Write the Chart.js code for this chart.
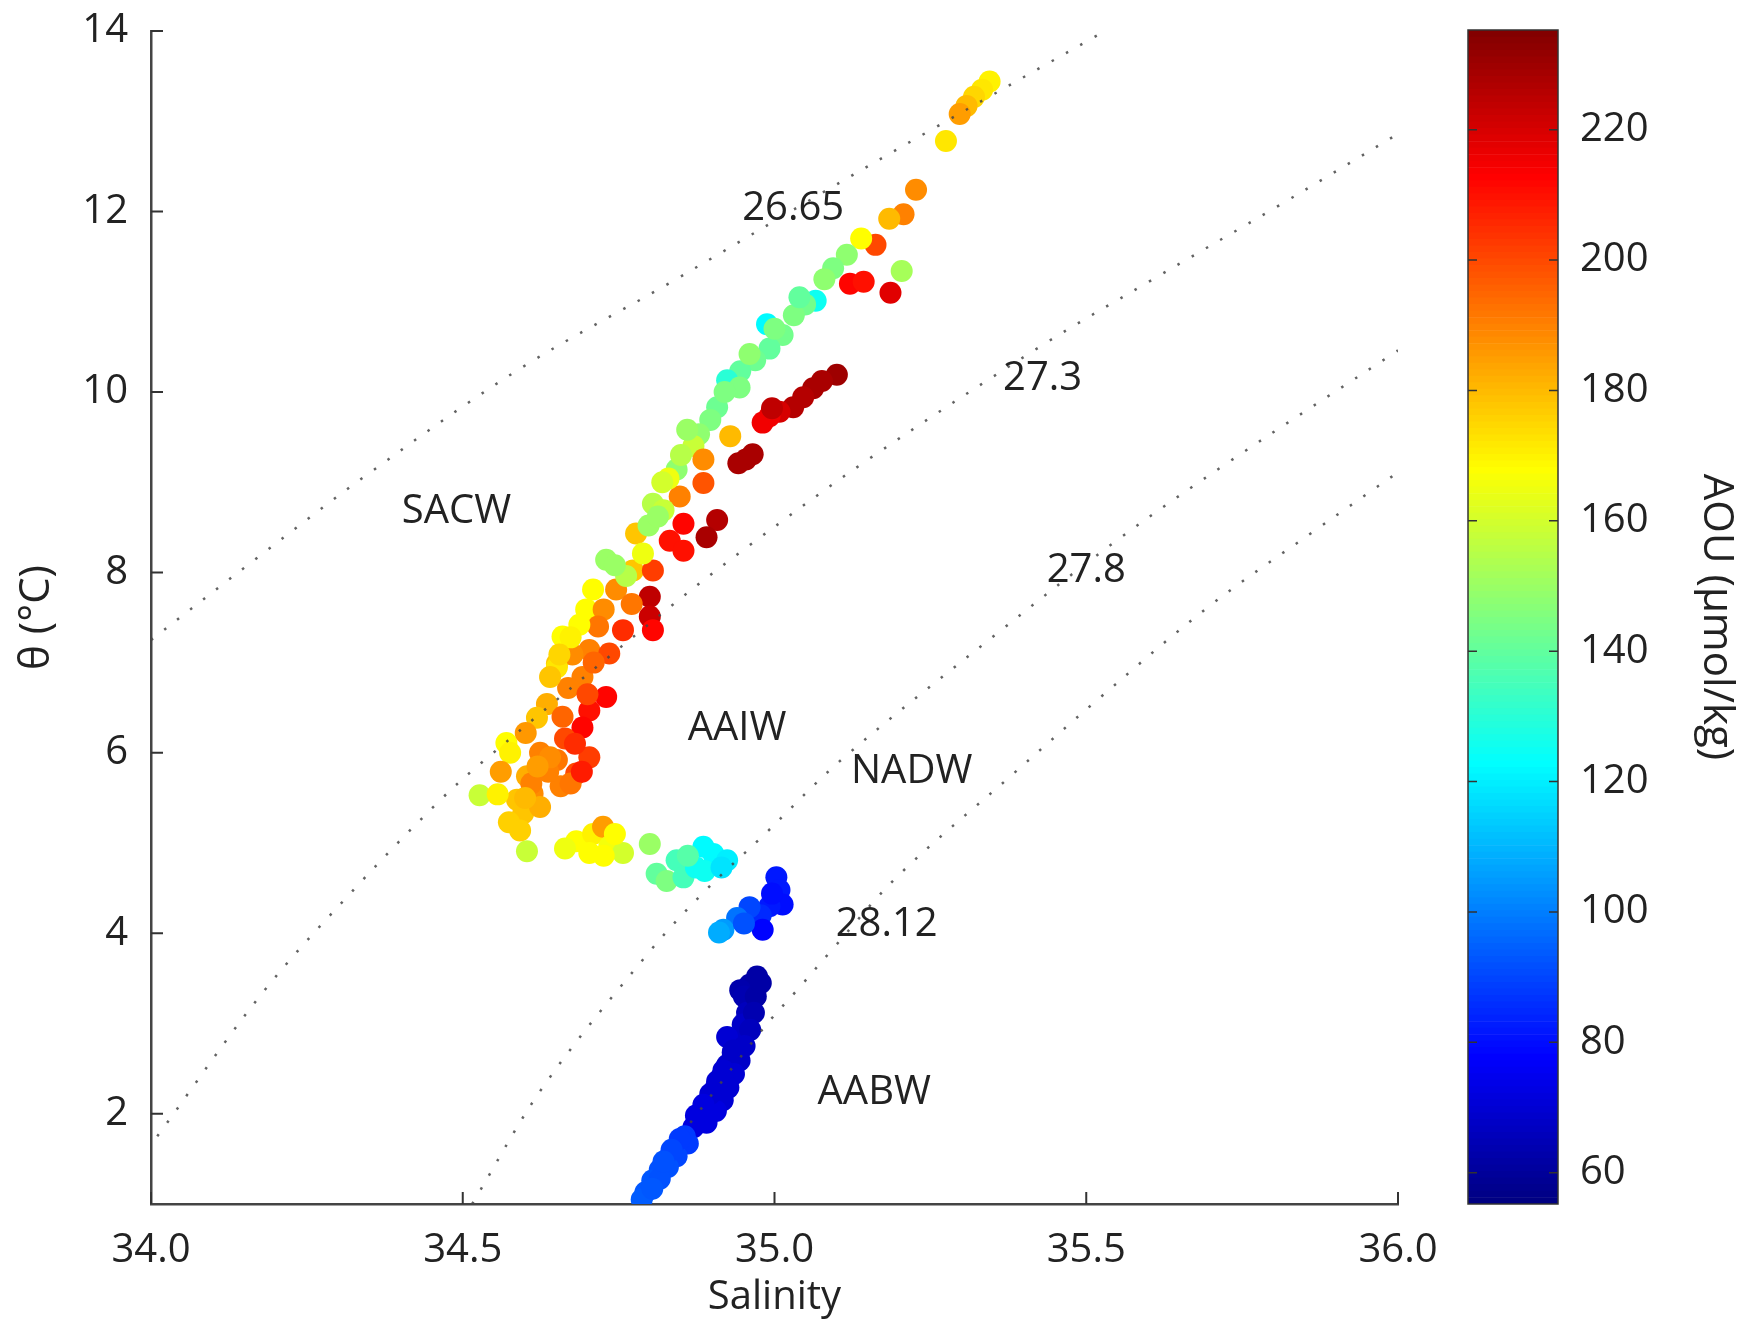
<!DOCTYPE html>
<html>
<head>
<meta charset="utf-8">
<script src="https://cdn.jsdelivr.net/npm/chart.js@4.4.1/dist/chart.umd.min.js"></script>
<style>
  html, body { margin: 0; padding: 0; background: #fff; }
  #wrap { position: relative; width: 1754px; height: 1325px; overflow: hidden; }
  #ts { position: absolute; left: 0; top: 0; }
  #cbar { position: absolute; left: 1440px; top: 0; }
</style>
</head>
<body>
<div id="wrap">
  <canvas id="ts" width="1453" height="1325"></canvas>
  <canvas id="cbar" width="314" height="1325"></canvas>
</div>
<script>
// ticks
const xTicks = [34.0, 34.5, 35.0, 35.5, 36.0];
const yTicks = [2, 4, 6, 8, 10, 12, 14];
const cbTicks = [60, 80, 100, 120, 140, 160, 180, 200, 220];
const aouMin = 55.2, aouMax = 235.3;

// bottle data: salinity, potential temperature, AOU
const salinity = [
  35.345, 35.333, 35.320, 35.308, 35.297, 35.275, 35.227, 35.207, 35.184, 35.162,
  35.139, 35.204, 35.121, 35.143, 35.186, 35.116, 35.094, 35.066, 35.049, 35.031,
  34.988, 35.013, 34.992, 34.969, 34.945, 34.924, 34.944, 34.908, 34.897, 34.879,
  34.929, 34.870, 34.886, 34.843, 34.848, 34.886, 34.805, 34.822, 34.830,
  34.860, 34.920, 34.960, 35.000, 35.040, 35.080, 34.850, 34.820,
  35.100, 35.076, 35.062, 35.046, 35.030, 35.008, 34.992, 34.981, 34.996, 34.954,
  34.942, 34.965,
  34.854, 34.908, 34.891, 34.832, 34.854, 34.778, 34.730, 34.773, 34.805, 34.800,
  34.709, 34.746, 34.800, 34.805, 34.698, 34.757, 34.660, 34.703, 34.735, 34.651,
  34.726, 34.771, 34.717, 34.676, 34.651, 34.692, 34.635, 34.619, 34.730, 34.703,
  34.692, 34.669, 34.570, 34.576, 34.624, 34.651, 34.703, 34.682, 34.603, 34.527,
  34.587, 34.612, 34.657, 34.597, 34.624, 34.574, 34.592, 34.637, 34.673, 34.691,
  34.664, 34.601, 34.561, 34.556, 34.610, 34.603, 34.687, 34.673, 34.640, 34.655,
  34.762, 34.744, 34.789, 34.798, 34.813,
  34.660, 34.680, 34.640, 34.620, 34.700, 34.710, 34.600,
  34.682, 34.709, 34.725, 34.703, 34.735, 34.757, 34.726, 34.664, 34.744, 34.800,
  34.811, 34.827, 34.843, 34.854, 34.874, 34.886, 34.902, 34.924, 34.861, 34.888,
  34.915,
  35.003, 35.008, 35.013, 34.992, 34.978, 34.960, 34.940, 34.918, 34.911, 34.981,
  34.951, 34.996,
  34.972, 34.960, 34.945, 34.951, 34.956, 34.949, 34.942, 34.924, 34.933, 34.924,
  34.915, 34.906, 34.897, 34.888, 34.879, 34.870, 34.856, 34.843, 34.830, 34.816,
  34.804, 34.793, 34.787,
  34.970, 34.967, 34.961, 34.952, 34.944, 34.935, 34.926, 34.917, 34.906, 34.891,
  34.861, 34.843, 34.829, 34.816, 34.804,
  34.978, 34.934, 34.918, 34.908, 34.897, 34.886, 34.874, 34.848, 34.835, 34.822
];
const theta = [
  13.44, 13.35, 13.27, 13.17, 13.08, 12.78, 12.24, 11.97, 11.92, 11.63,
  11.70, 11.34, 11.20, 11.22, 11.10, 11.52, 11.37, 11.01, 10.97, 10.85,
  10.75, 10.63, 10.48, 10.35, 10.23, 10.13, 10.05, 9.83, 9.69, 9.53,
  9.51, 9.40, 9.25, 9.14, 8.84, 8.99, 8.76, 8.69, 9.04,
  9.58, 10.00, 10.42, 10.70, 11.05, 11.25, 9.30, 9.00,
  10.19, 10.12, 10.04, 9.94, 9.83, 9.78, 9.73, 9.66, 9.82, 9.25,
  9.21, 9.31,
  8.54, 8.58, 8.39, 8.35, 8.24, 8.43, 8.14, 8.02, 8.02, 7.73,
  7.81, 7.81, 7.51, 7.36, 7.59, 7.36, 7.29, 7.14, 7.10, 6.99,
  7.59, 7.65, 7.40, 7.09, 6.95, 6.84, 6.54, 6.39, 6.62, 6.47,
  6.28, 6.72, 6.11, 6.00, 6.00, 5.92, 5.95, 5.77, 5.74, 5.53,
  5.48, 5.55, 5.63, 5.33, 5.40, 5.23, 5.14, 5.79, 5.66, 5.79,
  6.16, 6.22, 5.79, 5.54, 5.66, 4.91, 7.42, 7.28, 6.84, 7.09,
  7.96, 8.08, 8.21, 8.52, 8.62,
  6.40, 6.10, 5.95, 5.85, 6.65, 7.00, 5.50,
  5.02, 5.10, 5.18, 4.89, 4.96, 4.89, 4.86, 4.94, 5.10, 4.99,
  4.66, 4.58, 4.81, 4.62, 4.73, 4.96, 4.88, 4.81, 4.86, 4.69,
  4.73,
  4.62, 4.48, 4.32, 4.30, 4.20, 4.29, 4.17, 4.04, 4.01, 4.04,
  4.11, 4.44,
  3.52, 3.43, 3.37, 3.30, 3.12, 2.99, 2.83, 2.85, 2.68, 2.54,
  2.41, 2.29, 2.16, 2.04, 1.94, 1.85, 1.75, 1.63, 1.51, 1.38,
  1.26, 1.13, 1.05,
  3.30, 3.12, 2.93, 2.75, 2.59, 2.44, 2.29, 2.15, 2.03, 1.90,
  1.67, 1.53, 1.41, 1.28, 1.17,
  3.45, 2.70, 2.48, 2.36, 2.22, 2.10, 1.98, 1.72, 1.60, 1.47
];
const aou = [
  170, 172, 175, 180, 185, 172, 188, 190, 180, 200,
  168, 152, 212, 210, 218, 148, 145, 125, 143, 145,
  122, 143, 140, 142, 140, 130, 145, 142, 145, 148,
  180, 158, 188, 148, 190, 198, 155, 158, 165,
  150, 145, 148, 145, 140, 148, 155, 160,
  230, 228, 228, 226, 226, 220, 215, 215, 224, 228,
  228, 228,
  212, 226, 228, 210, 210, 178, 150, 178, 202, 224,
  168, 188, 222, 212, 168, 205, 168, 190, 200, 178,
  188, 192, 192, 188, 172, 190, 182, 178, 212, 210,
  212, 190, 168, 170, 190, 192, 202, 200, 182, 158,
  178, 188, 190, 178, 182, 176, 176, 190, 192, 208,
  200, 186, 185, 170, 190, 158, 168, 170, 178, 175,
  155, 150, 165, 150, 150,
  195, 205, 188, 185, 200, 195, 180,
  168, 170, 185, 168, 166, 160, 168, 165, 168, 150,
  140, 145, 135, 135, 125, 122, 122, 120, 138, 125,
  118,
  82, 82, 80, 82, 85, 90, 98, 105, 108, 78,
  92, 80,
  62, 62, 63, 64, 66, 68, 68, 70, 68, 68,
  70, 70, 70, 72, 72, 72, 88, 90, 92, 92,
  93, 93, 94,
  62, 64, 66, 68, 68, 70, 70, 70, 72, 72,
  88, 90, 92, 92, 93,
  62, 68, 70, 70, 70, 72, 72, 88, 90, 92
];

// isopycnals (sigma-theta)
const s2665 = [34.00, 34.17, 34.35, 34.59, 34.83, 35.07, 35.25, 35.53];
const t2665 = [7.25, 8.16, 9.10, 10.25, 11.20, 12.18, 12.90, 14.00];
const s273 = [34.01, 34.18, 34.33, 34.46, 34.53, 34.84, 34.96, 35.15, 35.43, 35.60, 35.81, 36.00];
const t273 = [1.75, 3.35, 4.52, 5.45, 5.89, 7.66, 8.30, 9.25, 10.52, 11.22, 12.07, 12.86];
const s278 = [34.515, 34.63, 34.80, 34.89, 34.98, 35.11, 35.36, 35.55, 35.73, 36.00];
const t278 = [1.00, 2.31, 3.80, 4.48, 5.07, 5.94, 7.34, 8.36, 9.23, 10.46];
const s2812 = [34.865, 34.98, 35.04, 35.09, 35.20, 35.38, 35.52, 35.70, 35.87, 36.00];
const t2812 = [1.90, 2.93, 3.40, 3.80, 4.65, 5.75, 6.60, 7.64, 8.48, 9.11];

// text on the plot
const labelText = ['SACW', '26.65', '27.3', '27.8', 'AAIW', 'NADW', '28.12', 'AABW'];
const labelS = [34.49, 35.03, 35.43, 35.50, 34.94, 35.22, 35.18, 35.16];
const labelT = [8.67, 12.03, 10.15, 8.02, 6.27, 5.79, 4.10, 2.24];

Chart.defaults.font.family = "'Open Sans', 'Noto Sans', sans-serif";
Chart.defaults.color = '#222';

function jet(v) {
  const p = (v - aouMin) / (aouMax - aouMin);
  const c = t => Math.round(255 * Math.min(1, Math.max(0, t)));
  return 'rgb(' + c(1.5 - Math.abs(4 * p - 3)) + ',' + c(1.5 - Math.abs(4 * p - 2)) + ',' + c(1.5 - Math.abs(4 * p - 1)) + ')';
}

function isoLine(sArr, tArr) {
  return {
    type: 'line',
    data: sArr.map((s, i) => ({ x: s, y: tArr[i] })),
    borderColor: 'rgba(70,70,70,0.85)',
    borderWidth: 2.5,
    borderDash: [2.5, 14],
    pointRadius: 0,
    fill: false,
    tension: 0.35,
    order: 1
  };
}

const textLabels = {
  id: 'textLabels',
  afterDatasetsDraw(chart) {
    const { ctx, scales: { x, y } } = chart;
    ctx.save();
    ctx.font = "40px 'Open Sans'";
    ctx.fillStyle = '#222';
    ctx.textAlign = 'center';
    ctx.textBaseline = 'middle';
    labelText.forEach((t, i) => {
      ctx.fillText(t, x.getPixelForValue(labelS[i]), y.getPixelForValue(labelT[i]));
    });
    ctx.restore();
  }
};

// matlab style ticks pointing into the plot
const inTicks = {
  id: 'inTicks',
  afterDraw(chart) {
    const { ctx, chartArea: a, scales: { x, y } } = chart;
    ctx.save();
    ctx.strokeStyle = '#333';
    ctx.lineWidth = 2;
    ctx.beginPath();
    xTicks.forEach(v => {
      const px = x.getPixelForValue(v);
      ctx.moveTo(px, a.bottom);
      ctx.lineTo(px, a.bottom - 12);
    });
    yTicks.forEach(v => {
      const py = y.getPixelForValue(v);
      ctx.moveTo(a.left, py);
      ctx.lineTo(a.left + 12, py);
    });
    ctx.stroke();
    ctx.restore();
  }
};

new Chart(document.getElementById('ts'), {
  type: 'scatter',
  data: {
    datasets: [
      {
        data: salinity.map((s, i) => ({ x: s, y: theta[i] })),
        pointRadius: 11,
        pointBorderWidth: 0,
        pointBackgroundColor: aou.map(jet),
        pointBorderColor: aou.map(jet),
        order: 2
      },
      isoLine(s2665, t2665),
      isoLine(s273, t273),
      isoLine(s278, t278),
      isoLine(s2812, t2812)
    ]
  },
  options: {
    responsive: false,
    animation: false,
    events: [],
    layout: { padding: { left: 0, top: 31, right: 55, bottom: 0 } },
    plugins: { legend: { display: false }, tooltip: { enabled: false } },
    scales: {
      x: {
        type: 'linear',
        min: 34,
        max: 36,
        afterBuildTicks: s => { s.ticks = xTicks.map(v => ({ value: v })); },
        afterFit: s => { s.height = 121; },
        grid: { display: false },
        border: { display: true, color: '#444', width: 2.5 },
        ticks: { font: { size: 40 }, padding: 15, callback: v => Number(v).toFixed(1), maxRotation: 0 },
        title: { display: true, text: 'Salinity', font: { size: 40 }, padding: { top: 0, bottom: 3 } }
      },
      y: {
        type: 'linear',
        min: 1,
        max: 14,
        afterBuildTicks: s => { s.ticks = yTicks.map(v => ({ value: v })); },
        afterFit: s => { s.width = 151; },
        grid: { display: false },
        border: { display: true, color: '#444', width: 2.5 },
        ticks: { font: { size: 40, lineHeight: 0.8 }, padding: 15 },
        title: { display: true, text: 'θ (°C)', font: { size: 42 }, padding: { top: 12, bottom: 0 } }
      }
    }
  },
  plugins: [textLabels, inTicks]
});

// colour bar: one floating bar per AOU unit
const cbDatasets = [];
for (let v = aouMin; v < aouMax; v++) {
  cbDatasets.push({
    data: [[v, Math.min(v + 1, aouMax)]],
    backgroundColor: jet(v + 0.5),
    borderWidth: 0,
    grouped: false,
    barPercentage: 1,
    categoryPercentage: 1
  });
}

const cbFrame = {
  id: 'cbFrame',
  afterDraw(chart) {
    const { ctx, chartArea: a, scales: { y } } = chart;
    ctx.save();
    ctx.strokeStyle = '#333';
    ctx.lineWidth = 1.5;
    ctx.strokeRect(a.left, a.top, a.right - a.left, a.bottom - a.top);
    ctx.beginPath();
    cbTicks.forEach(v => {
      const py = y.getPixelForValue(v);
      ctx.moveTo(a.left, py); ctx.lineTo(a.left + 9, py);
      ctx.moveTo(a.right, py); ctx.lineTo(a.right - 9, py);
    });
    ctx.stroke();
    ctx.restore();
  }
};

new Chart(document.getElementById('cbar'), {
  type: 'bar',
  data: { labels: ['AOU'], datasets: cbDatasets },
  options: {
    responsive: false,
    animation: false,
    events: [],
    layout: { padding: { left: 28, top: 30, right: 0, bottom: 121 } },
    plugins: { legend: { display: false }, tooltip: { enabled: false } },
    scales: {
      x: { display: false },
      y: {
        position: 'right',
        min: aouMin,
        max: aouMax,
        afterBuildTicks: s => { s.ticks = cbTicks.map(v => ({ value: v })); },
        afterFit: s => { s.width = 196; },
        grid: { display: false },
        border: { display: false },
        ticks: { font: { size: 40, lineHeight: 0.8 }, padding: 14 },
        title: { display: true, text: 'AOU (µmol/kg)', font: { size: 42 }, padding: { top: 13, bottom: 0 } }
      }
    }
  },
  plugins: [cbFrame]
});
</script>
</body>
</html>
